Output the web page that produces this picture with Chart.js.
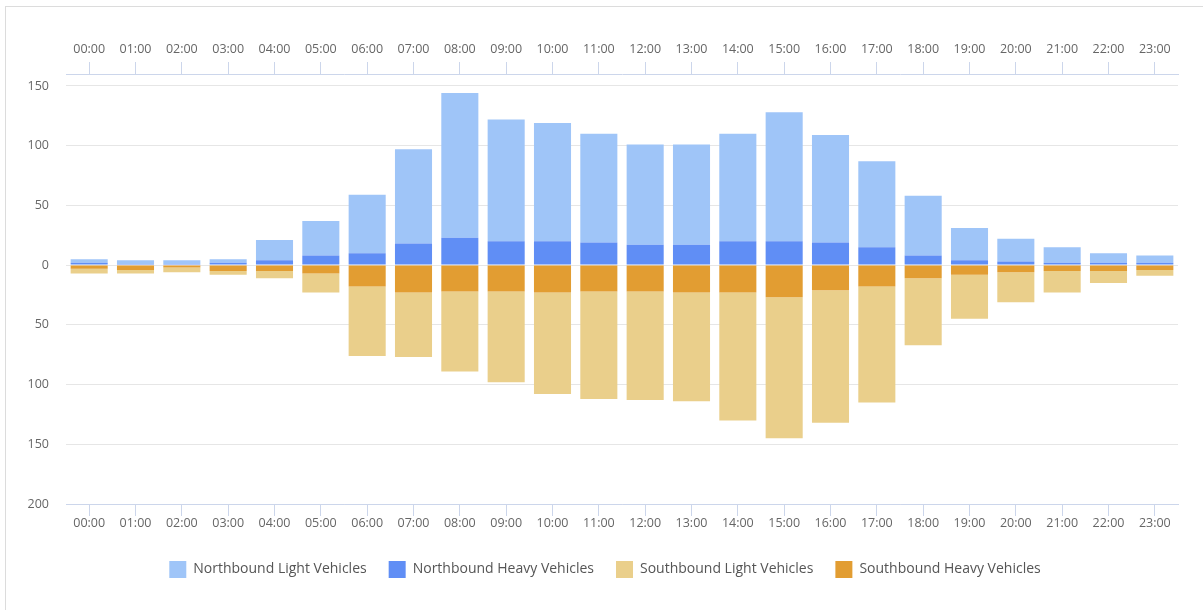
<!DOCTYPE html>
<html>
<head>
<meta charset="utf-8">
<script src="https://cdn.jsdelivr.net/npm/chart.js@4"></script>
<style>
  body { margin: 0; background: #fff; }
  .frame { position: absolute; left: 5px; top: 6px; right: 0; bottom: 0; border-left: 1px solid #dcdcdc; border-top: 1px solid #dcdcdc; }
  #chart { position: absolute; left: 0; top: 0; }
</style>
</head>
<body>
<div class="frame"></div>
<canvas id="chart" width="1203" height="610"></canvas>
<script>
// hours of the day
const hours = ['00:00','01:00','02:00','03:00','04:00','05:00','06:00','07:00','08:00','09:00','10:00','11:00',
               '12:00','13:00','14:00','15:00','16:00','17:00','18:00','19:00','20:00','21:00','22:00','23:00']

// northbound (drawn above zero)
const nbLight = [3, 3, 3, 3, 17, 29, 49, 79, 121, 102, 99, 91, 84, 84, 90, 108, 90, 72, 50, 27, 19, 13, 8, 6]
const nbHeavy = [2, 1, 1, 2, 4, 8, 10, 18, 23, 20, 20, 19, 17, 17, 20, 20, 19, 15, 8, 4, 3, 2, 2, 2]

// southbound (drawn below zero, so stored negative)
const sbLight = [-4, -3, -4, -3, -6, -16, -58, -54, -67, -76, -85, -90, -91, -91, -107, -118, -111, -97, -56, -37, -25, -18, -10, -5]
const sbHeavy = [-3, -4, -2, -5, -5, -7, -18, -23, -22, -22, -23, -22, -22, -23, -23, -27, -21, -18, -11, -8, -6, -5, -5, -4]

const yTicks = [-200, -150, -100, -50, 0, 50, 100, 150]

const font = 'Open Sans'
const axisColor = '#ccd6eb'

Chart.defaults.font.family = font
Chart.defaults.color = '#666'

// the legend sits centred on the whole page, not on the padded box
const legendShift = {
    id: 'legendShift',
    afterLayout(chart) {
        chart.legend.left += 16
        chart.legend.right += 16
    }
}

const ctx = document.getElementById('chart').getContext('2d')
const chart = new Chart(ctx, {
    type: 'bar',
    data: {
        labels: hours,
        datasets: [
            { label: 'Northbound Light Vehicles', data: nbLight, backgroundColor: '#9fc5f8', order: 1 },
            { label: 'Northbound Heavy Vehicles', data: nbHeavy, backgroundColor: '#608ef5', order: 0 },
            { label: 'Southbound Light Vehicles', data: sbLight, backgroundColor: '#eacf8b', order: 1 },
            { label: 'Southbound Heavy Vehicles', data: sbHeavy, backgroundColor: '#e29d32', order: 0 }
        ]
    },
    plugins: [legendShift],
    options: {
        responsive: false,
        animation: false,
        barPercentage: 0.8,
        categoryPercentage: 1,
        borderWidth: 0,
        layout: { padding: { left: 0, right: 25, top: 0, bottom: 22 } },
        plugins: {
            tooltip: { enabled: false },
            legend: {
                position: 'bottom',
                labels: {
                    boxWidth: 17,
                    boxHeight: 17,
                    padding: 22,
                    color: '#555',
                    font: { size: 14, family: font },
                    sort: (a, b) => a.datasetIndex - b.datasetIndex
                }
            }
        },
        scales: {
            x: {
                stacked: true,
                position: 'bottom',
                offset: true,
                grid: { offset: false, drawOnChartArea: false, tickLength: 12, color: axisColor },
                border: { color: axisColor, width: 1 },
                ticks: { padding: 0, maxRotation: 0, autoSkip: false, font: { size: 12.5 } },
                afterFit: s => { s.height = 35 }
            },
            x2: {
                type: 'category',
                labels: hours,
                position: 'top',
                offset: true,
                grid: { offset: false, drawOnChartArea: false, tickLength: 12, color: axisColor },
                border: { color: axisColor, width: 1 },
                ticks: { padding: 5, maxRotation: 0, autoSkip: false, font: { size: 12.5 } },
                afterFit: s => { s.height = 74 }
            },
            y: {
                stacked: true,
                min: -200,
                max: 160,
                border: { display: false },
                grid: { color: '#e6e6e6', drawTicks: false },
                afterBuildTicks: s => { s.ticks = yTicks.map(v => ({ value: v })) },
                ticks: {
                    padding: 17,
                    font: { size: 12.5 },
                    callback: v => Math.abs(v)
                },
                afterFit: s => { s.width = 66 }
            }
        }
    }
})
</script>
</body>
</html>
